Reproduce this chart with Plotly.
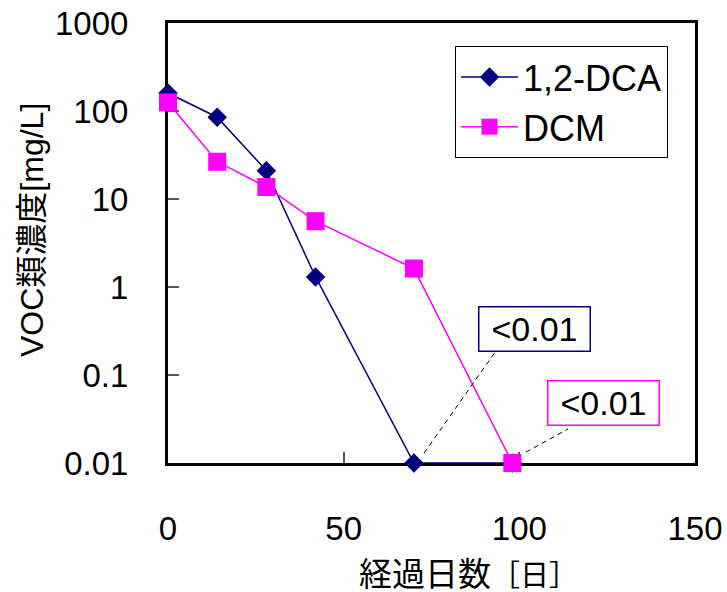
import numpy as np
import plotly.graph_objects as go

# Elapsed days and measured concentrations (mg/L)
days = [0, 14, 28, 42, 70, 98]
dca_conc = [160, 85, 21, 1.3, 0.01, 0.01]
dcm_conc = [125, 26.5, 13.7, 5.6, 1.62, 0.01]

x_ticks = [0, 50, 100, 150]
y_ticks = [0.01, 0.1, 1, 10, 100, 1000]
y_tick_text = ["0.01", "0.1", "1", "10", "100", "1000"]

below_label = "<0.01"

FONT = "Liberation Sans, Arial, Noto Sans CJK JP, sans-serif"
NAVY = "#000080"
MAGENTA = "#FF00FF"

# plot-area geometry in pixels
L, R, T, B = 168, 695, 23, 463
W, H = R - L, B - T

fig = go.Figure()

fig.add_trace(go.Scatter(
    x=days, y=dca_conc, name="1,2-DCA", mode="lines+markers",
    line=dict(color=NAVY, width=1.5),
    marker=dict(symbol="diamond", size=15, color=NAVY),
    cliponaxis=False, legendgroup="a",
))
fig.add_trace(go.Scatter(
    x=days, y=dcm_conc, name="DCM", mode="lines+markers",
    line=dict(color=MAGENTA, width=1.5),
    marker=dict(symbol="square", size=18, color=MAGENTA),
    cliponaxis=False, legendgroup="b",
))

# dashed leader lines from the last points to their labels
leaders = [
    ([72.9, 93.1], [0.013, 0.182]),
    ([101.9, 113.9], [0.0133, 0.0244]),
]
for lx, ly in leaders:
    fig.add_trace(go.Scatter(
        x=lx, y=ly, mode="lines", showlegend=False, hoverinfo="skip",
        line=dict(color="black", width=1, dash="5px,4px"),
        cliponaxis=False,
    ))

# boxed "<0.01" labels
for (bx, by, col) in [(104.3, 0.337, NAVY), (124.0, 0.048, MAGENTA)]:
    fig.add_annotation(
        x=bx, y=np.log10(by), xref="x", yref="y", text=below_label,
        showarrow=False, font=dict(family=FONT, size=34, color="black"),
        bordercolor=col, borderwidth=1.5, borderpad=1, bgcolor="white",
        width=108, height=41, align="center", valign="middle",
        xanchor="center", yanchor="middle",
    )

# y axis title
fig.add_annotation(
    x=(32 - L) / W, y=(B - 230) / H, xref="paper", yref="paper",
    text="VOC類濃度[mg/L]", showarrow=False, textangle=-90,
    font=dict(family=FONT, size=32, color="black"),
    xanchor="center", yanchor="middle",
)

# x axis title
fig.add_annotation(
    x=(468 - L) / W, y=-(574 - B) / H, xref="paper", yref="paper",
    text="経過日数<span style='font-size:29px'>［日］</span>", showarrow=False,
    font=dict(family=FONT, size=33, color="black"),
    xanchor="center", yanchor="middle",
)

fig.update_layout(
    width=727, height=592,
    margin=dict(l=L, r=727 - R, t=T, b=592 - B, autoexpand=False),
    paper_bgcolor="white", plot_bgcolor="white",
    font=dict(family=FONT, size=33, color="black"),
    showlegend=True,
    legend=dict(
        x=(455 - L) / W, y=(B - 46) / H, xanchor="left", yanchor="top",
        bordercolor="black", borderwidth=1, bgcolor="white",
        font=dict(family=FONT, size=36, color="black"),
        tracegroupgap=0, itemwidth=57,
    ),
    xaxis=dict(
        range=[0, 150], tickvals=x_ticks, ticks="inside", ticklen=11,
        tickcolor="#555555", tickwidth=1.5,
        showline=True, linecolor="black", linewidth=3, mirror=True,
        showgrid=False, zeroline=False, layer="below traces",
        tickfont=dict(family=FONT, size=33), ticklabelstandoff=34,
        automargin=False,
    ),
    yaxis=dict(
        type="log", range=[-2, 3], tickvals=y_ticks, ticktext=y_tick_text,
        ticks="inside", ticklen=11, tickcolor="#555555", tickwidth=1.5,
        showline=True, linecolor="black", linewidth=3, mirror=True,
        showgrid=False, zeroline=False, layer="below traces",
        tickfont=dict(family=FONT, size=33), ticklabelstandoff=30,
        automargin=False,
    ),
)

fig.write_html("out.html")
